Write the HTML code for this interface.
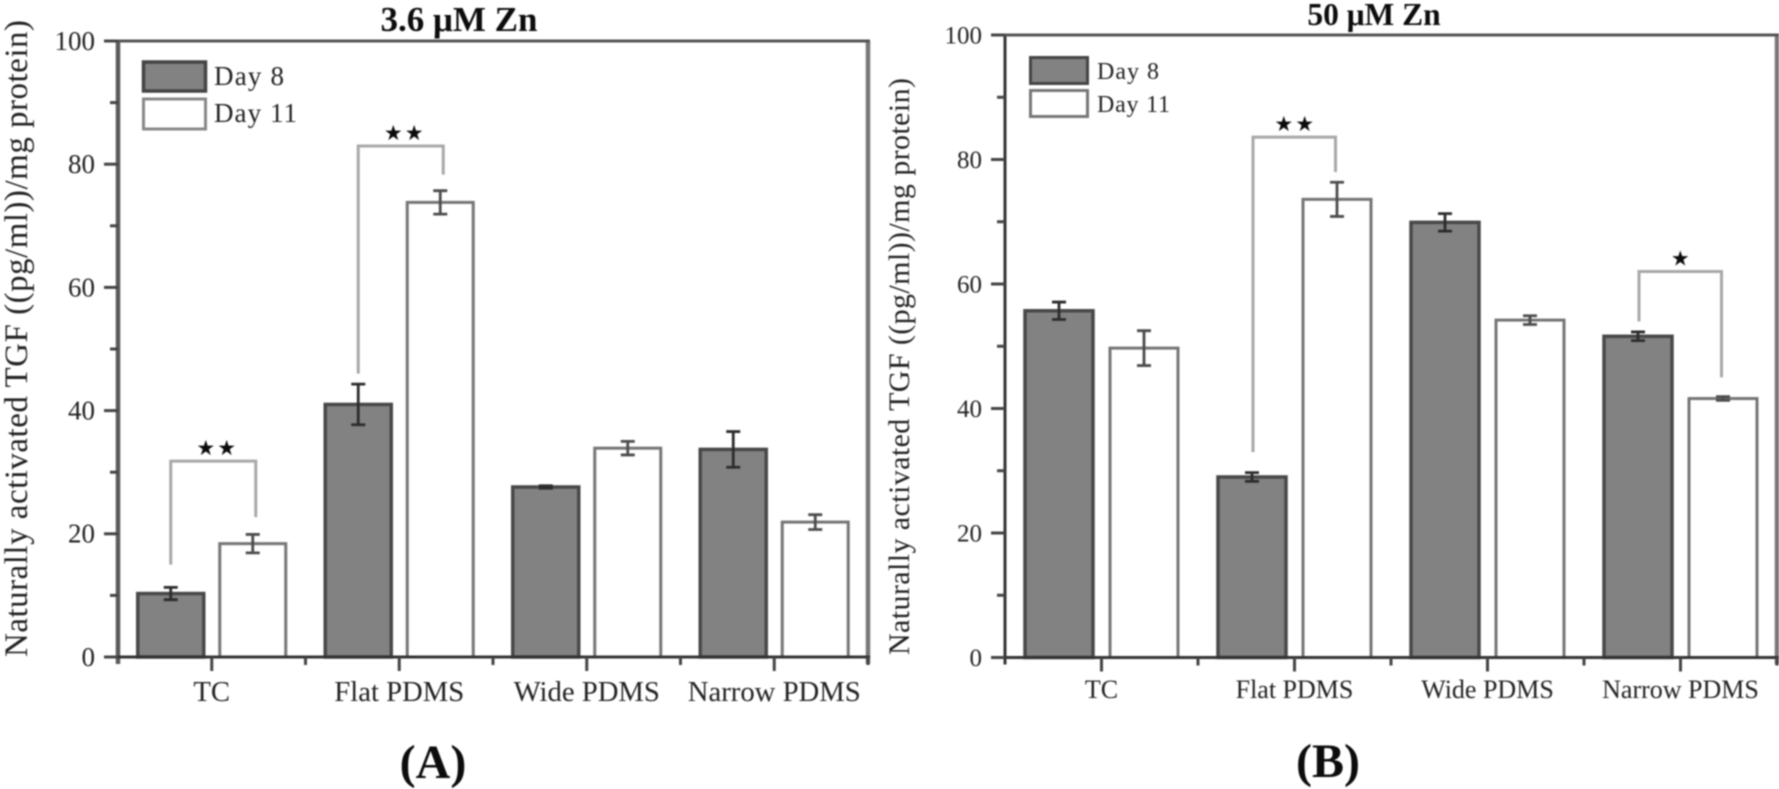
<!DOCTYPE html>
<html lang="en">
<head>
<meta charset="utf-8">
<title>Naturally activated TGF at 3.6 and 50 µM Zn</title>
<style>
html,body{margin:0;padding:0;background:#fff;width:1779px;height:789px;overflow:hidden}
svg{display:block;filter:blur(0.8px)}
text{font-family:"Liberation Serif",serif;fill:#222}
.bold{font-weight:bold;fill:#0c0c0c}
.star{font-family:"DejaVu Sans",sans-serif;fill:#0c0c0c}
</style>
</head>
<body>
<svg id="figure" width="1779" height="789" viewBox="0 0 1779 789" xmlns="http://www.w3.org/2000/svg">
  <rect x="0" y="0" width="1779" height="789" fill="#fff"/>

  <g id="panel-a">
    <text class="bold" x="459" y="31" font-size="35" text-anchor="middle">3.6 μM Zn</text>
    <text transform="translate(27,657) rotate(-90)" font-size="33" textLength="637" lengthAdjust="spacing">Naturally activated TGF ((pg/ml))/mg protein)</text>
    <rect x="143.500" y="62" width="62" height="29" fill="#828282" stroke="#444" stroke-width="3.500"/>
    <text x="214" y="85" font-size="27" textLength="70" lengthAdjust="spacing">Day 8</text>
    <rect x="143.500" y="99" width="62" height="30" fill="#fff" stroke="#888" stroke-width="3"/>
    <text x="214" y="122" font-size="27" textLength="83" lengthAdjust="spacing">Day 11</text>
    <text class="bold" x="433" y="778" font-size="48" text-anchor="middle">(A)</text>
  </g>

  <g id="panel-b">
    <text class="bold" x="1374" y="25" font-size="31.500" text-anchor="middle">50 μM Zn</text>
    <text transform="translate(909,655) rotate(-90)" font-size="30" textLength="577" lengthAdjust="spacing">Naturally activated TGF ((pg/ml))/mg protein)</text>
    <rect x="1030.500" y="57.500" width="57" height="26" fill="#828282" stroke="#444" stroke-width="3"/>
    <text x="1097" y="79" font-size="24" textLength="62" lengthAdjust="spacing">Day 8</text>
    <rect x="1030.500" y="90.500" width="57" height="26" fill="#fff" stroke="#777" stroke-width="3"/>
    <text x="1097" y="112" font-size="24" textLength="73" lengthAdjust="spacing">Day 11</text>
    <text class="bold" x="1328" y="777" font-size="48" text-anchor="middle">(B)</text>
  </g>
</svg>

<script>
var categories = ['TC', 'Flat PDMS', 'Wide PDMS', 'Narrow PDMS'];
var yTickLabels = [0, 20, 40, 60, 80, 100];
var yMinorTicks = [10, 30, 50, 70, 90];

var panelADay8 = [10.3, 41, 27.6, 33.7];
var panelADay11 = [18.4, 73.8, 33.9, 21.9];
var panelADay8Err = [1, 3.3, 0.2, 2.9];
var panelADay11Err = [1.5, 1.9, 1.1, 1.2];

var panelBDay8 = [55.7, 29, 69.9, 51.6];
var panelBDay11 = [49.7, 73.6, 54.2, 41.6];
var panelBDay8Err = [1.4, 0.7, 1.4, 0.7];
var panelBDay11Err = [2.8, 2.75, 0.7, 0.3];

var panelABracketCats = [0, 1];
var panelABracketTops = [31.8, 82.95];
var panelABracketDay8Ends = [15, 46];
var panelABracketDay11Ends = [22.7, 78.3];
var panelABracketStars = ['★★', '★★'];

var panelBBracketCats = [1, 3];
var panelBBracketTops = [83.6, 62];
var panelBBracketDay8Ends = [33, 54];
var panelBBracketDay11Ends = [78, 45];
var panelBBracketStars = ['★★', '★'];

var SVG_NS = 'http://www.w3.org/2000/svg';

function make(tag, parent, attrs) {
  var el = document.createElementNS(SVG_NS, tag);
  Object.keys(attrs).forEach(function (k) { el.setAttribute(k, attrs[k]); });
  parent.appendChild(el);
  return el;
}

function drawPanel(cfg) {
  var root = document.getElementById(cfg.id);
  var yScale = function (v) { return cfg.y0 + (cfg.y100 - cfg.y0) * v / 100; };
  var band = (cfg.x1 - cfg.x0) / categories.length;
  var xScale = function (i) { return cfg.x0 + (i + 0.5) * band; };

  // bars and error bars
  categories.forEach(function (cat, i) {
    [[cfg.day8, cfg.day8Err, -1], [cfg.day11, cfg.day11Err, 1]].forEach(function (s) {
      var cx = xScale(i) + s[2] * cfg.barOffset;
      var v = s[0][i];
      var e = s[1][i];
      var isDark = s[2] < 0;
      var bar = make('rect', root, {
        x: cx - cfg.barW / 2,
        y: yScale(v),
        width: cfg.barW,
        height: yScale(0) - yScale(v),
        fill: isDark ? '#828282' : '#fff',
        stroke: isDark ? '#484848' : '#757575',
        'stroke-width': isDark ? 3.5 : 3
      });
      
      
      var err = make('path', root, {
        d: 'M' + (cx - 7) + ' ' + yScale(v + e) + 'H' + (cx + 7) +
           'M' + cx + ' ' + yScale(v + e) + 'V' + yScale(v - e) +
           'M' + (cx - 7) + ' ' + yScale(v - e) + 'H' + (cx + 7),
        fill: 'none',
        stroke: isDark ? '#2c2c2c' : '#4c4c4c',
        'stroke-width': 2.8
      });
      
      
    });
  });

  // significance brackets
  cfg.bracketCats.forEach(function (c, i) {
    var xl = xScale(c) - cfg.barOffset + cfg.bracketLeftDx;
    var xr = xScale(c) + cfg.barOffset + cfg.bracketRightDx;
    var yt = yScale(cfg.bracketTops[i]);
    var br = make('path', root, {
      d: 'M' + xl + ' ' + yScale(cfg.bracketDay8Ends[i]) + 'V' + yt + 'H' + xr + 'V' + yScale(cfg.bracketDay11Ends[i]),
      fill: 'none',
      stroke: '#a8a8a8',
      'stroke-width': 3
    });
    
    
    var st = make('text', root, {
      x: (xl + xr) / 2 + cfg.starDx,
      y: yt - 6,
      'font-size': 21,
      'text-anchor': 'middle',
      'letter-spacing': 2,
      'class': 'star'
    });
    
    
    st.textContent = cfg.bracketStars[i];
  });

  // axis frame
  var leftSpine = make('line', root, { x1: cfg.x0, x2: cfg.x0, y1: cfg.y100, y2: cfg.y0 + 7, stroke: cfg.leftColor, 'stroke-width': cfg.leftWidth });
  
  
  var rightSpine = make('line', root, { x1: cfg.x1, x2: cfg.x1, y1: cfg.y100, y2: cfg.y0 + 7, stroke: '#777', 'stroke-width': 4.5 });
  
  
  var topSpine = make('line', root, { x1: cfg.x0 - 14, x2: cfg.x1 + 2, y1: cfg.y100, y2: cfg.y100, stroke: '#555', 'stroke-width': 3 });
  
  
  var bottomSpine = make('line', root, { x1: cfg.x0 - 14, x2: cfg.x1 + 2, y1: cfg.y0, y2: cfg.y0, stroke: '#333', 'stroke-width': 3 });
  
  

  // y ticks
  yTickLabels.forEach(function (t) {
    var tick = make('line', root, { x1: cfg.x0 - 14, x2: cfg.x0, y1: yScale(t), y2: yScale(t), stroke: '#444', 'stroke-width': 3 });
    
    
    var lab = make('text', root, { x: cfg.x0 - 23, y: yScale(t) + cfg.tickSize * 0.33, 'font-size': cfg.tickSize, 'text-anchor': 'end' });
    
    
    lab.textContent = t;
  });
  yMinorTicks.forEach(function (t) {
    var tick = make('line', root, { x1: cfg.x0 - 8, x2: cfg.x0, y1: yScale(t), y2: yScale(t), stroke: '#444', 'stroke-width': 3 });
    
    
  });

  // x ticks and labels
  categories.forEach(function (cat, i) {
    var cx = xScale(i);
    var tick = make('line', root, { x1: cx, x2: cx, y1: cfg.y0, y2: cfg.y0 + 14, stroke: '#444', 'stroke-width': 3 });
    
    
    var minor = make('line', root, { x1: cx + band / 2, x2: cx + band / 2, y1: cfg.y0, y2: cfg.y0 + 8, stroke: '#444', 'stroke-width': 3 });
    
    
    var lab = make('text', root, { x: cx, y: cfg.xLabelY, 'font-size': cfg.xLabelSize, 'text-anchor': 'middle' });
    
    
    lab.textContent = cat;
  });
}

drawPanel({
  id: 'panel-a', x0: 118, x1: 868, y0: 657, y100: 41,
  barW: 66, barOffset: 41, leftColor: '#5a5a5a', leftWidth: 4.5,
  tickSize: 27, xLabelSize: 28.7, xLabelY: 701,
  bracketLeftDx: 0, bracketRightDx: 3, starDx: 4,
  day8: panelADay8, day11: panelADay11, day8Err: panelADay8Err, day11Err: panelADay11Err,
  bracketCats: panelABracketCats, bracketTops: panelABracketTops,
  bracketDay8Ends: panelABracketDay8Ends, bracketDay11Ends: panelABracketDay11Ends,
  bracketStars: panelABracketStars
});

drawPanel({
  id: 'panel-b', x0: 1005, x1: 1777, y0: 657.5, y100: 35,
  barW: 68, barOffset: 42.5, leftColor: '#333', leftWidth: 3,
  tickSize: 25, xLabelSize: 26, xLabelY: 698,
  bracketLeftDx: 1, bracketRightDx: -1.5, starDx: 1,
  day8: panelBDay8, day11: panelBDay11, day8Err: panelBDay8Err, day11Err: panelBDay11Err,
  bracketCats: panelBBracketCats, bracketTops: panelBBracketTops,
  bracketDay8Ends: panelBBracketDay8Ends, bracketDay11Ends: panelBBracketDay11Ends,
  bracketStars: panelBBracketStars
});
</script>
</body>
</html>
